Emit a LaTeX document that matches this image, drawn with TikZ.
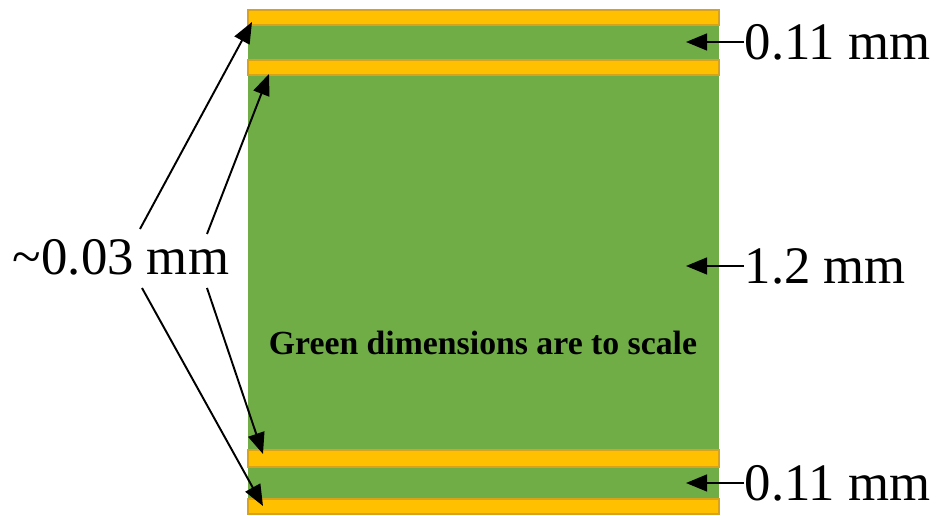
\documentclass[tikz,border=0pt]{standalone}
\usepackage{fontspec}
\setmainfont{Liberation Serif}
\usetikzlibrary{arrows.meta}

\definecolor{coregreen}{HTML}{70AD47}
\definecolor{cugold}{HTML}{FFC000}
\definecolor{cuedge}{HTML}{D9A21B}

\tikzset{
    cufoil/.style={fill=cugold, draw=cuedge, line width=0.4pt},
    corelayer/.style={fill=coregreen},
    dimtext/.style={font=\fontsize{15}{18}\selectfont, inner sep=0pt},
    pointer/.style={line width=0.55pt, -{Triangle[length=6pt,width=4.8pt]}},
}

\begin{document}
\begin{tikzpicture}[x=0.01cm,y=-0.01cm]

    \useasboundingbox (0,0) rectangle (936,516);

    % Layer stack
    \fill[corelayer] (248,10) rectangle (719,514);
    \draw[cufoil] (248,10) rectangle (719,25);
    \draw[cufoil] (248,60) rectangle (719,75);
    \draw[cufoil] (248,450) rectangle (719,467);
    \draw[cufoil] (248,499) rectangle (719,514);

    % Note inside the core
    \node[font=\bfseries\fontsize{9.6}{11}\selectfont] (note) at (483,343) {Green dimensions are to scale};

    % Right-hand thickness labels
    \node[dimtext, anchor=west] (topcore) at (744,42) {0.11 mm};
    \node[dimtext, anchor=west] (midcore) at (744,266) {1.2 mm};
    \node[dimtext, anchor=west] (botcore) at (744,483) {0.11 mm};

    \coordinate (topin) at (686,42);
    \coordinate (midin) at (686,266);
    \coordinate (botin) at (686,483);

    \draw[pointer] (topcore.west) -- (topin);
    \draw[pointer] (midcore.west) -- (midin);
    \draw[pointer] (botcore.west) -- (botin);

    % Copper thickness label and its pointers
    \node[dimtext] (cufoil) at (121,257) {\textasciitilde0.03 mm};

    \coordinate (cuA) at (252,22);
    \coordinate (cuB) at (269,74);
    \coordinate (cuC) at (263,454);
    \coordinate (cuD) at (263,506);

    \draw[pointer] (140,229) -- (cuA);
    \draw[pointer] (207,234) -- (cuB);
    \draw[pointer] (207,288) -- (cuC);
    \draw[pointer] (142,288) -- (cuD);

\end{tikzpicture}
\end{document}
